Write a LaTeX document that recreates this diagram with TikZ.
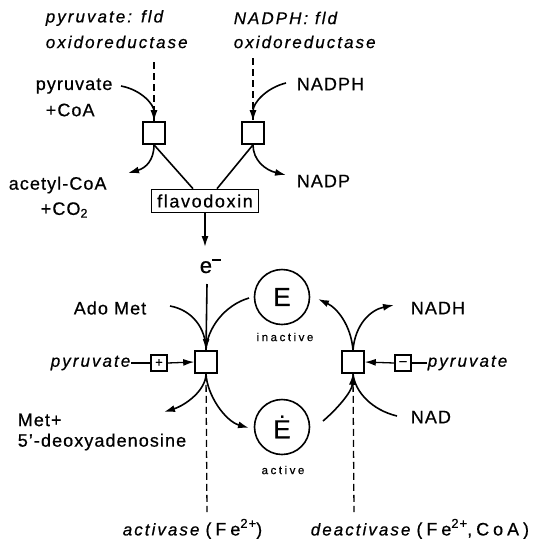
\documentclass[tikz,border=0pt]{standalone}
\usepackage{fontspec}
\setmainfont{Liberation Sans}[LetterSpace=6,FakeBold=0.6]
\usetikzlibrary{arrows.meta,calc}
\newcommand\itf{\fontsize{17}{20}\selectfont\itshape\addfontfeatures{LetterSpace=12}}
\newcommand\wide{\addfontfeatures{LetterSpace=22}}
\newcommand\supr[1]{\raisebox{7.5pt}{\fontsize{13}{13}\selectfont\addfontfeatures{LetterSpace=8}#1}}
\begin{document}
\begin{tikzpicture}[x=1pt,y=-1pt, line width=1.6pt,
  >={Latex[length=11pt,width=7pt]},
  lab/.style={font=\fontsize{18}{21}\selectfont, inner sep=0pt},
  itl/.style={font=\itf, inner sep=0pt},
  small/.style={font=\fontsize{11.5}{13}\selectfont\addfontfeatures{LetterSpace=22}, inner sep=0pt},
  sq/.style={draw, minimum size=22pt, inner sep=0pt},
  pm/.style={draw, minimum size=16pt, inner sep=0pt, line width=1.3pt, font=\fontsize{13}{13}\selectfont},
  circ/.style={draw, circle, minimum size=55pt, inner sep=0pt, font=\fontsize{26}{26}\selectfont},
  dsh/.style={dash pattern=on 7pt off 4pt, line width=1.3pt}]
\useasboundingbox (0,0) rectangle (536,539);

% ---- upper part ----
\node[itl, anchor=west] (t1a) at (45,18) {pyruvate: fld};
\node[itl, anchor=west] (t1b) at (45,42) {oxidoreductase};
\node[itl, anchor=west] (t2a) at (233,18) {NADPH: fld};
\node[itl, anchor=west] (t2b) at (233,42) {oxidoreductase};

\node[sq] (b1) at (154,133) {};
\node[sq] (b2) at (253,133) {};

\node[lab, anchor=west] (pyr) at (35,86) {pyruvate};
\node[lab, anchor=west] (coa) at (45,110) {+CoA};
\node[lab, anchor=west] (acoa) at (8,185) {acetyl-CoA};
\node[lab, anchor=west] (co2) at (40,210) {+CO\textsubscript{2}};
\node[lab, anchor=west] (nadph) at (296,84) {NADPH};
\node[lab, anchor=west] (nadp) at (296,181) {NADP};
\node[draw, lab, minimum width=107pt, minimum height=23pt] (fl) at (205,201) {\addfontfeatures{LetterSpace=9}flavodoxin};

\coordinate (d1) at (154,62);
\coordinate (d2) at (253,58);
\draw[dsh] (d1) -- (b1.north);
\draw[dsh] (d2) -- (b2.north);

\coordinate (pyrS) at (121,86);
\coordinate (acE) at (128,173);
\coordinate (nadphS) at (286,83);
\coordinate (nadpE) at (286,175);
\draw[->] (pyrS) .. controls (142,90) and (154,105) .. (b1.north);
\draw[->] (b1.south) .. controls (154,160) and (146,168) .. (acE);
\draw[->] (nadphS) .. controls (266,88) and (253,103) .. (b2.north);
\draw[->] (b2.south) .. controls (253,160) and (265,170) .. (nadpE);
\draw (b1.south) -- ($(fl.north)+(-12,0)$);
\draw (b2.south) -- ($(fl.north)+(12,0)$);

\coordinate (et) at (205,247);
\draw[->] (fl.south) -- (et);
\node[anchor=base west, inner sep=0pt, font=\fontsize{22}{22}\selectfont] (em) at (199,273) {e\raisebox{12pt}{\rule{9pt}{1.8pt}}};

% ---- lower part ----
\node[sq] (b3) at (206,362) {};
\node[sq] (b4) at (353,362) {};
\node[circ] (E) at (282,297) {E};
\node[circ] (Ed) at (282,427) {\.E};
\node[small] (inact) at (285,337) {inactive};
\node[small] (act) at (283,470) {active};

\coordinate (eb) at (207,284);
\draw[->] (eb) -- (b3.north);
\node[lab, anchor=west] (adomet) at (73,308) {Ado Met};
\coordinate (adoS) at (170,306);
\draw (adoS) .. controls (192,310) and (206,328) .. (b3.north);
\coordinate (eS) at (249,298);
\draw (eS) .. controls (225,305) and (207,328) .. (b3.north);

\node[itl, anchor=west] (pyrl) at (50,363) {pyruvate};
\node[pm] (plus) at (159,363) {+};
\draw[line width=1.3pt] (pyrl.east) -- (plus.west);
\draw[->, line width=1.3pt] (plus.east) -- (b3.west);

\node[lab, anchor=west] (met) at (17,420) {Met+};
\node[lab, anchor=west] (deoxy) at (17,442) {5'-deoxyadenosine};
\coordinate (metE) at (164,412);
\coordinate (edE) at (249,428);
\draw[->] (b3.south) .. controls (206,390) and (186,405) .. (metE);
\draw[->] (b3.south) .. controls (207,395) and (225,421) .. (edE);

\coordinate (d3) at (207,512);
\draw[dsh] (b3.south) -- (d3);
\node[lab, anchor=west] (actv) at (122,529) {{\itf activase}\hspace{6pt}{\wide(Fe\supr{2+})}};

% right box
\coordinate (eE) at (318,299);
\coordinate (nadhE) at (394,305);
\draw[->] (b4.north) .. controls (351,325) and (337,308) .. (eE);
\draw[->] (b4.north) .. controls (355,325) and (370,310) .. (nadhE);
\node[lab, anchor=west] (nadh) at (410,308) {NADH};
\node[lab, anchor=west] (nad) at (410,417) {NAD};
\coordinate (edS) at (323,421);
\coordinate (nadS) at (397,416);
\draw[->] (edS) .. controls (336,410) and (352,392) .. (b4.south);
\draw (nadS) .. controls (372,410) and (355,392) .. (b4.south);

\node[pm] (minus) at (403,363) {\textendash};
\node[itl, anchor=west] (pyrr) at (427,363) {pyruvate};
\draw[line width=1.3pt] (pyrr.west) -- (minus.east);
\draw[->, line width=1.3pt] (minus.west) -- (b4.east);

\coordinate (d4) at (354,512);
\draw[dsh] (b4.south) -- (d4);
\node[lab, anchor=west] (deact) at (310,529) {{\itf deactivase}\hspace{6pt}{\wide(Fe\supr{2+},CoA)}};
\end{tikzpicture}
\end{document}
